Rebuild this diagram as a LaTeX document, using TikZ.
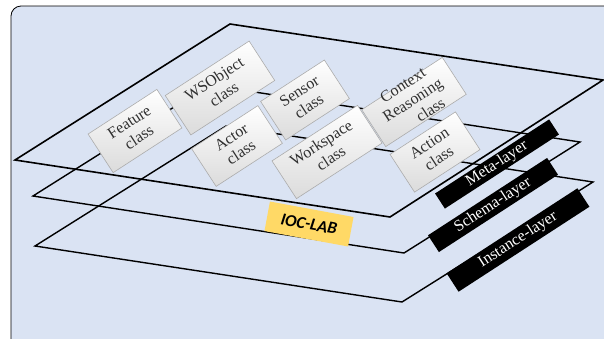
\documentclass[tikz,border=0pt]{standalone}
\usepackage{fontspec}
\setmainfont{Liberation Serif}
\newfontfamily\tagfont{Carlito}
\definecolor{panelblue}{HTML}{DAE3F3}
\definecolor{tagyellow}{HTML}{FFD966}
\definecolor{inkgray}{HTML}{303030}
% centred caption lines
\newcommand{\clstext}[1]{\begin{tabular}{@{}c@{}}#1\end{tabular}}
\begin{document}
\begin{tikzpicture}[x=1pt,y=-1pt,
  plane/.style={draw=black,line width=1.4pt,line join=miter},
  classbox/.style={draw=gray!65,line width=0.6pt,top color=white,bottom color=gray!28,
    rotate=33,inner sep=0pt,text=inkgray,font=\fontsize{16}{18}\selectfont},
  layertag/.style={fill=black,rotate=33,inner sep=0pt,text=white,
    font=\fontsize{16}{18}\selectfont},
  labtag/.style={fill=tagyellow,rotate=-10.5,inner sep=0pt,
    minimum width=85pt,minimum height=30pt,font=\tagfont\bfseries\itshape\fontsize{17}{20}\selectfont}]
\useasboundingbox (0,0) rectangle (604,338);

% panel
\draw[fill=panelblue,draw=black,line width=0.8pt,rounded corners=10pt] (11,6) rectangle (640,370);

% layer planes
\coordinate (mL) at (15,160);  \coordinate (mT) at (230,24);
\coordinate (mR) at (603,80);  \coordinate (mB) at (390,217);
\coordinate (sL) at (33,196);  \coordinate (sT) at (209,85);
\coordinate (sR) at (580,142); \coordinate (sB) at (404,253);
\coordinate (iL) at (35,246);  \coordinate (iT) at (226,126);
\coordinate (iR) at (593,182); \coordinate (iB) at (402,302);
\draw[plane,line width=1.6pt] (mL) -- (mT) -- (mR) -- (mB) -- cycle;
\draw[plane] (sL) -- (sT) -- (sR) -- (sB) -- cycle;
\draw[plane] (iL) -- (iT) -- (iR) -- (iB) -- cycle;

% classes
\node[classbox,minimum width=82pt,minimum height=46pt] (feature) at (135,131) {\clstext{Feature\\class}};
\node[classbox,minimum width=100pt,minimum height=47pt] (wsobject) at (220,88) {\clstext{WSObject\\class}};
\node[classbox,minimum width=76pt,minimum height=46pt] (sensor) at (305,100) {\clstext{Sensor\\class}};
\node[classbox,minimum width=79pt,minimum height=45pt] (actor) at (237,146) {\clstext{Actor\\class}};
\node[classbox,minimum width=102pt,minimum height=45pt] (workspace) at (327,152) {\clstext{Workspace\\class}};
% three lines run past the box, so the caption is kept out of its size
\node[classbox,minimum width=96pt,minimum height=44pt] (context) at (414,102)
  {\raisebox{-7pt}{\smash{\clstext{Context\\Reasoning\\\hspace*{1.2em}class}}}};
\node[classbox,minimum width=78pt,minimum height=45pt] (action) at (435,152) {\clstext{Action\\class}};

% layer names
\node[layertag,minimum width=136pt,minimum height=18pt] (metatag) at (497,164) {Meta-layer};
\node[layertag,minimum width=142pt,minimum height=20pt] (schematag) at (493,205) {Schema-layer};
\node[layertag,minimum width=156pt,minimum height=22pt] (instancetag) at (518,240) {Instance-layer};

% lab tag
\node[labtag] (ioclab) at (309,224) {IOC-LAB};
\end{tikzpicture}
\end{document}
